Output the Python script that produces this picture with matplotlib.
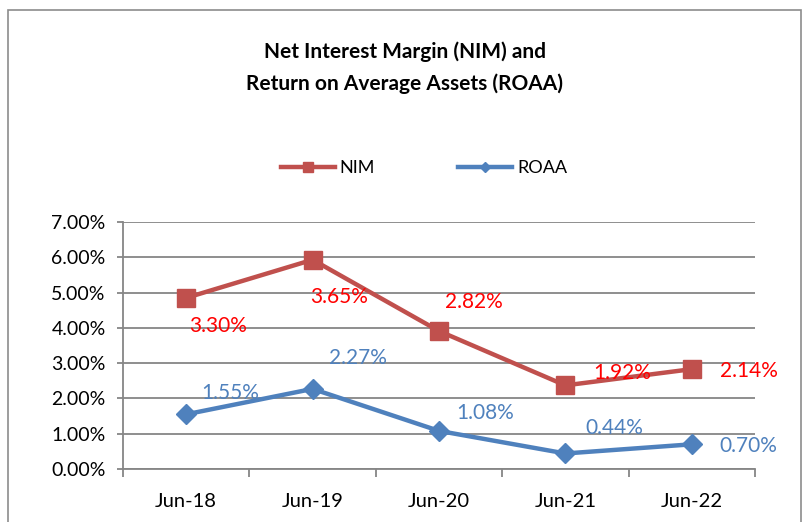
import matplotlib
matplotlib.use('Agg')
from matplotlib import pyplot as plt
from matplotlib.patches import Rectangle
from matplotlib.ticker import FuncFormatter, FixedLocator
import numpy as np

categories = ['Jun-18', 'Jun-19', 'Jun-20', 'Jun-21', 'Jun-22']
nim_values = [4.85, 5.93, 3.91, 2.37, 2.83]
nim_labels = ['3.30%', '3.65%', '2.82%', '1.92%', '2.14%']
roaa_values = [1.55, 2.27, 1.08, 0.44, 0.70]
roaa_labels = ['1.55%', '2.27%', '1.08%', '0.44%', '0.70%']

# label offsets in points (dx, dy)
nim_off = [(23, -20), (19, -27), (25, 21), (41, 9), (41, -1)]
roaa_off = [(32, 15), (33, 22), (33, 13), (35, 18), (41, -1)]

plt.rcParams['font.family'] = ['Lato', 'DejaVu Sans']

fig = plt.figure(figsize=(8.09, 5.22), dpi=100)
fig.patches.append(Rectangle((8/809, -0.05), 793/809, 1.05 - 10/522, transform=fig.transFigure,
                             fill=False, edgecolor='#8c8c8c', linewidth=1.2))

ax = fig.add_axes([123/809, 1 - 469/522, 632/809, 247/522])
x = np.arange(len(categories))
nim_c = '#C0504D'
roaa_c = '#4F81BD'

ax.plot(x, nim_values, color=nim_c, lw=3.2, marker='s', ms=13, label='NIM', zorder=3)
ax.plot(x, roaa_values, color=roaa_c, lw=3.2, marker='D', ms=10, label='ROAA', zorder=3)

for i in range(len(x)):
    ax.annotate(nim_labels[i], (x[i], nim_values[i]), xytext=nim_off[i], textcoords='offset points',
                ha='center', va='center', color='#FF0000', fontsize=15)
    ax.annotate(roaa_labels[i], (x[i], roaa_values[i]), xytext=roaa_off[i], textcoords='offset points',
                ha='center', va='center', color=roaa_c, fontsize=15)

ax.set_xlim(-0.5, 4.5)
ax.set_ylim(0, 7)
ax.set_yticks(np.arange(0, 8, 1))
ax.yaxis.set_major_formatter(FuncFormatter(lambda v, p: '%.2f%%' % v))
ax.yaxis.grid(True, color='#868686', lw=1.3)
ax.set_axisbelow(True)
ax.set_xticks(x)
ax.set_xticklabels(categories)
ax.xaxis.set_minor_locator(FixedLocator(np.arange(-0.5, 5, 1)))
ax.tick_params(axis='x', which='major', length=0, pad=17, labelsize=14.5)
ax.tick_params(axis='x', which='minor', length=5.5, color='#868686', width=1.3)
ax.tick_params(axis='y', length=4.5, color='#868686', width=1.3, labelsize=14, pad=8)
for s in ['top', 'right']:
    ax.spines[s].set_visible(False)
ax.spines['left'].set_color('#868686')
ax.spines['bottom'].set_color('#868686')
ax.spines['left'].set_linewidth(1.3)
ax.spines['bottom'].set_linewidth(1.3)

fig.text(0.5, 1 - 52/522, 'Net Interest Margin (NIM) and', ha='center', va='center',
         fontsize=15, fontweight='bold')
fig.text(0.5, 1 - 84/522, 'Return on Average Assets (ROAA)', ha='center', va='center',
         fontsize=15, fontweight='bold')

fig.legend(loc='center', bbox_to_anchor=(424/809, 1 - 168/522), ncol=2, frameon=False,
           fontsize=13, handlelength=3.0, handletextpad=0.25, columnspacing=4.6,
           markerscale=0.55)

fig.savefig('out.png', dpi=100)
